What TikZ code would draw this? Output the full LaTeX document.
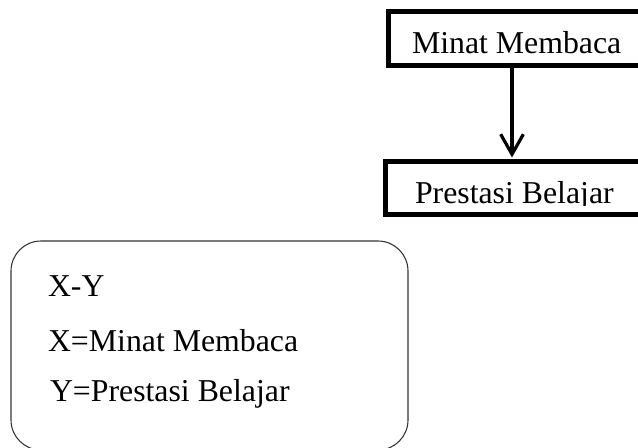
\documentclass[tikz,border=0pt]{standalone}
\usepackage{fontspec}
\setmainfont{Liberation Serif}
\usetikzlibrary{arrows.meta}
\begin{document}
\begin{tikzpicture}[x=0.75pt,y=-0.75pt,
  txt/.style={inner sep=0pt,outer sep=0pt,anchor=base west,font=\fontsize{23.85pt}{28pt}\selectfont},
  thickbox/.style={draw=black,line width=3.75pt,rectangle,outer sep=0pt,inner sep=0pt,anchor=north west},
  arr/.style={draw=black,line width=2.4pt,-{Straight Barb[length=15pt,width=17pt,line width=2.4pt]}},
  legendbox/.style={draw=black!80,line width=0.8pt,rounded corners=22.5pt}]
\useasboundingbox (0,0) rectangle (638,448);
\clip (0,0) rectangle (638,448);
% top box
\node[thickbox,minimum width=230pt,minimum height=40.5pt] (mm) at (388.5,11.5) {};
\node[txt] (mmt) at (412,54) {Minat Membaca};
% bottom box
\node[thickbox,minimum width=230pt,minimum height=39.75pt] (pb) at (385.5,161.5) {};
\begin{scope}
\clip (380,150) rectangle (638,206);
\node[txt] (pbt) at (415,204) {Prestasi Belajar};
\end{scope}
% arrow
\coordinate (ax) at (512,0);
\draw[arr,shorten >=3pt] (ax |- mm.south) -- (ax |- pb.north);
% legend box
\node[legendbox,rectangle,minimum width=297.75pt,minimum height=156.75pt,anchor=north west,outer sep=0pt] (lg) at (11,241) {};
\node[txt] (l1) at (48,297) {X-Y};
\node[txt] (l2) at (48,352) {X=Minat Membaca};
\node[txt] (l3) at (50,402) {Y=Prestasi Belajar};
\end{tikzpicture}
\end{document}
